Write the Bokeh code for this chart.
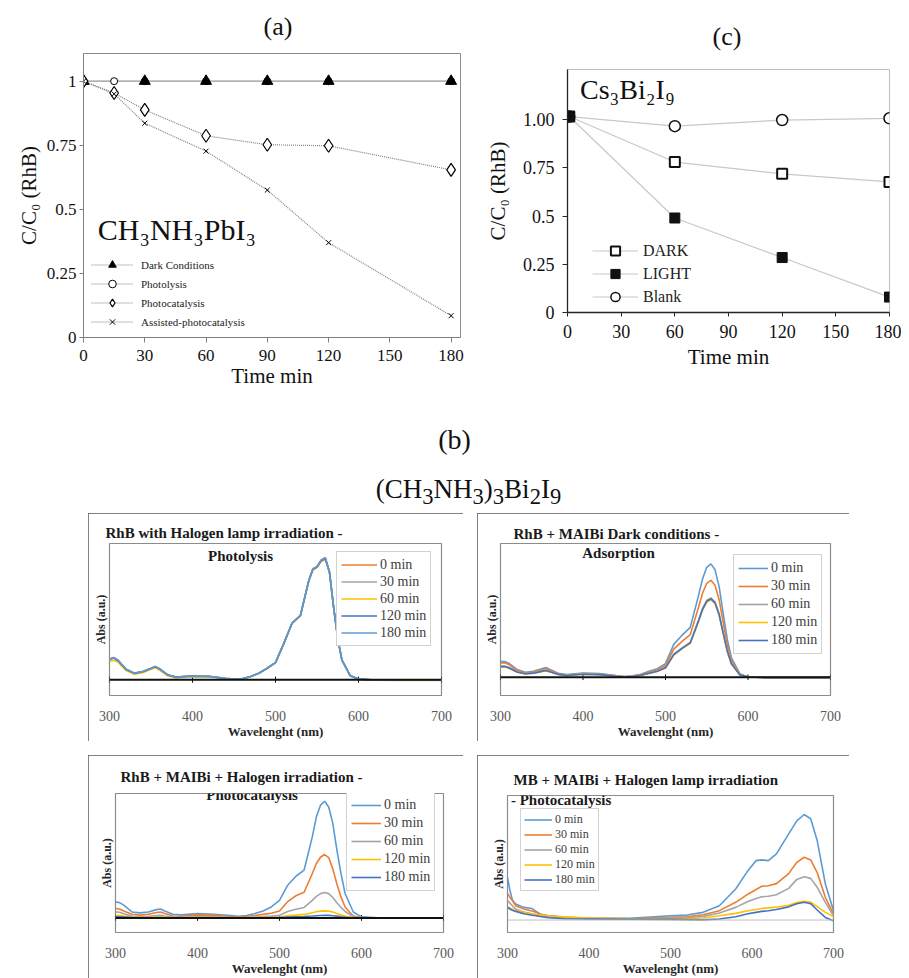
import math
from bokeh.plotting import figure
from bokeh.models import Range1d, Legend, LegendItem, Label, Span, Div, Spacer, FixedTicker
from bokeh.layouts import row, column
from bokeh.embed import file_html
from bokeh.resources import INLINE

SERIF = "Liberation Serif"

# ---------------- panel (a) : CH3NH3PbI3 ----------------
A_T_DARK = [0, 30, 60, 90, 120, 180]
A_DARK = [1, 1, 1, 1, 1, 1]
A_T_PHOTOLYSIS = [0, 15, 30, 60, 90, 120, 180]
A_PHOTOLYSIS = [1, 1, 1, 1, 1, 1, 1]
A_T_CAT = [0, 15, 30, 60, 90, 120, 180]
A_PHOTOCAT = [1, 0.954, 0.888, 0.787, 0.752, 0.748, 0.654]
A_ASSISTED = [1, 0.95, 0.836, 0.727, 0.575, 0.37, 0.085]
A_LABELS = ["Dark Conditions", "Photolysis", "Photocatalysis", "Assisted-photocatalysis"]
A_XTICKS = [0, 30, 60, 90, 120, 150, 180]
A_YTICKS = [0, 0.25, 0.5, 0.75, 1]
A_YLABELS = ["0", "0.25", "0.5", "0.75", "1"]

# ---------------- panel (c) : Cs3Bi2I9 ----------------
C_TIME = [1, 60, 120, 180]
C_DARK = [1.016, 0.78, 0.719, 0.677]
C_LIGHT = [1.016, 0.49, 0.285, 0.08]
C_BLANK = [1.016, 0.966, 0.998, 1.007]
C_LABELS = ["DARK", "LIGHT", "Blank"]
C_XTICKS = [0, 30, 60, 90, 120, 150, 180]
C_YTICKS = [0, 0.25, 0.5, 0.75, 1.0]
C_YLABELS = ["0", "0.25", "0.5", "0.75", "1.00"]

# ---------------- panel (b) spectra ----------------
SPEC_LABELS = ["0 min", "30 min", "60 min", "120 min", "180 min"]
WL_TICKS = [300, 400, 500, 600, 700]
W_RHB = [300, 305, 310, 320, 330, 340, 350, 355, 360, 370, 380, 400, 420, 440, 450, 460, 470, 480, 490, 500,
         510, 520, 530, 540, 545, 550, 555, 560, 565, 570, 575, 580, 590, 600, 620, 650, 700]

TL_0 = [0.171, 0.182, 0.163, 0.087, 0.054, 0.068, 0.095, 0.109, 0.092, 0.041, 0.022, 0.030, 0.027, 0.011, 0.005, 0.008, 0.027, 0.054, 0.095, 0.141,
        0.299, 0.467, 0.530, 0.815, 0.912, 0.932, 0.985, 1.005, 0.890, 0.600, 0.340, 0.163, 0.033, 0.005, -0.003, -0.005, -0.005]
TL_30 = [0.168, 0.180, 0.160, 0.085, 0.053, 0.066, 0.093, 0.107, 0.090, 0.040, 0.021, 0.029, 0.026, 0.010, 0.005, 0.008, 0.026, 0.053, 0.094, 0.140,
         0.297, 0.465, 0.528, 0.812, 0.908, 0.928, 0.980, 0.998, 0.886, 0.597, 0.338, 0.162, 0.033, 0.005, -0.003, -0.005, -0.005]
TL_60 = [0.150, 0.160, 0.145, 0.075, 0.045, 0.058, 0.085, 0.098, 0.080, 0.032, 0.015, 0.025, 0.023, 0.008, 0.003, 0.006, 0.024, 0.051, 0.092, 0.138,
         0.295, 0.462, 0.525, 0.808, 0.902, 0.922, 0.972, 0.988, 0.880, 0.594, 0.336, 0.160, 0.032, 0.004, -0.004, -0.006, -0.006]
TL_120 = [0.166, 0.178, 0.158, 0.084, 0.052, 0.065, 0.092, 0.106, 0.089, 0.039, 0.021, 0.029, 0.026, 0.010, 0.005, 0.008, 0.026, 0.053, 0.094, 0.140,
          0.297, 0.464, 0.527, 0.810, 0.906, 0.926, 0.978, 0.995, 0.884, 0.596, 0.337, 0.161, 0.033, 0.005, -0.003, -0.005, -0.005]
TL_180 = [0.169, 0.181, 0.161, 0.086, 0.053, 0.067, 0.094, 0.108, 0.091, 0.040, 0.022, 0.030, 0.027, 0.011, 0.005, 0.008, 0.027, 0.054, 0.095, 0.141,
          0.298, 0.466, 0.529, 0.813, 0.910, 0.930, 0.982, 1.000, 0.888, 0.598, 0.339, 0.162, 0.033, 0.005, -0.003, -0.005, -0.005]

TR_0 = [0.139, 0.139, 0.124, 0.069, 0.043, 0.052, 0.075, 0.087, 0.069, 0.035, 0.023, 0.038, 0.032, 0.014, 0.006, 0.012, 0.026, 0.052, 0.075, 0.120,
        0.290, 0.370, 0.440, 0.720, 0.870, 0.970, 1.000, 0.950, 0.800, 0.560, 0.330, 0.170, 0.032, 0.003, -0.003, -0.003, -0.003]
TR_30 = [0.127, 0.127, 0.113, 0.062, 0.038, 0.046, 0.066, 0.077, 0.061, 0.031, 0.020, 0.033, 0.028, 0.012, 0.005, 0.010, 0.022, 0.044, 0.066, 0.103,
         0.248, 0.316, 0.376, 0.615, 0.744, 0.829, 0.855, 0.812, 0.684, 0.479, 0.282, 0.145, 0.027, 0.003, -0.003, -0.003, -0.003]
TR_60 = [0.098, 0.098, 0.088, 0.050, 0.032, 0.038, 0.055, 0.063, 0.050, 0.026, 0.017, 0.028, 0.024, 0.010, 0.004, 0.008, 0.018, 0.036, 0.054, 0.084,
         0.203, 0.259, 0.308, 0.504, 0.609, 0.679, 0.700, 0.665, 0.560, 0.392, 0.231, 0.119, 0.022, 0.002, -0.003, -0.003, -0.003]
TR_120 = [0.090, 0.090, 0.080, 0.045, 0.030, 0.035, 0.050, 0.058, 0.046, 0.024, 0.016, 0.026, 0.022, 0.009, 0.004, 0.007, 0.017, 0.034, 0.052, 0.081,
          0.196, 0.251, 0.299, 0.490, 0.593, 0.662, 0.683, 0.649, 0.546, 0.382, 0.225, 0.116, 0.021, 0.002, -0.003, -0.003, -0.003]
TR_180 = [0.094, 0.094, 0.084, 0.047, 0.031, 0.036, 0.052, 0.060, 0.048, 0.025, 0.016, 0.027, 0.023, 0.009, 0.004, 0.007, 0.017, 0.035, 0.053, 0.083,
          0.200, 0.255, 0.303, 0.497, 0.601, 0.670, 0.692, 0.657, 0.553, 0.387, 0.228, 0.118, 0.021, 0.002, -0.003, -0.003, -0.003]

BL_0 = [0.137, 0.131, 0.109, 0.051, 0.043, 0.051, 0.071, 0.077, 0.060, 0.031, 0.026, 0.037, 0.031, 0.020, 0.014, 0.020, 0.037, 0.060, 0.094, 0.151,
        0.280, 0.357, 0.410, 0.694, 0.866, 0.966, 1.000, 0.950, 0.810, 0.580, 0.380, 0.209, 0.051, 0.009, 0.000, 0.000, 0.000]
BL_30 = [0.080, 0.077, 0.060, 0.031, 0.024, 0.031, 0.046, 0.051, 0.037, 0.017, 0.014, 0.026, 0.022, 0.012, 0.008, 0.012, 0.020, 0.030, 0.040, 0.060,
         0.140, 0.190, 0.220, 0.380, 0.466, 0.520, 0.543, 0.517, 0.420, 0.290, 0.180, 0.094, 0.017, 0.003, 0.000, 0.000, 0.000]
BL_60 = [0.050, 0.048, 0.036, 0.014, 0.010, 0.013, 0.020, 0.023, 0.017, 0.008, 0.006, 0.010, 0.009, 0.005, 0.003, 0.005, 0.008, 0.012, 0.017, 0.023,
         0.055, 0.075, 0.090, 0.150, 0.185, 0.208, 0.217, 0.208, 0.175, 0.130, 0.090, 0.055, 0.012, 0.002, 0.000, 0.000, 0.000]
BL_120 = [0.022, 0.020, 0.015, 0.006, 0.004, 0.005, 0.007, 0.008, 0.006, 0.003, 0.002, 0.004, 0.003, 0.002, 0.001, 0.002, 0.003, 0.004, 0.006, 0.008,
          0.018, 0.024, 0.030, 0.045, 0.053, 0.058, 0.060, 0.058, 0.050, 0.038, 0.026, 0.015, 0.004, 0.001, 0.000, 0.000, 0.000]
BL_180 = [0.010, 0.009, 0.007, 0.003, 0.002, 0.002, 0.003, 0.003, 0.002, 0.001, 0.001, 0.001, 0.001, 0.001, 0.000, 0.001, 0.001, 0.002, 0.003, 0.004,
          0.008, 0.010, 0.012, 0.016, 0.019, 0.021, 0.023, 0.022, 0.019, 0.015, 0.010, 0.006, 0.001, 0.000, 0.000, 0.000, 0.000]

W_MB = [300, 303, 306, 310, 320, 330, 335, 340, 350, 370, 400, 450, 500, 520, 540, 560, 580, 595, 605, 612,
        620, 630, 645, 655, 664, 672, 680, 690, 700]
BR_0 = [0.405, 0.280, 0.190, 0.152, 0.120, 0.110, 0.082, 0.057, 0.041, 0.025, 0.016, 0.016, 0.041, 0.047, 0.073, 0.136, 0.294, 0.468, 0.563, 0.570,
        0.563, 0.627, 0.816, 0.940, 1.000, 0.960, 0.753, 0.342, 0.089]
BR_30 = [0.253, 0.215, 0.185, 0.136, 0.104, 0.085, 0.075, 0.051, 0.040, 0.025, 0.016, 0.012, 0.025, 0.030, 0.050, 0.089, 0.168, 0.245, 0.290, 0.320,
         0.325, 0.345, 0.440, 0.547, 0.595, 0.570, 0.450, 0.215, 0.057]
BR_60 = [0.184, 0.160, 0.135, 0.104, 0.075, 0.060, 0.052, 0.040, 0.030, 0.020, 0.014, 0.010, 0.018, 0.020, 0.035, 0.066, 0.120, 0.175, 0.205, 0.220,
         0.225, 0.240, 0.300, 0.385, 0.410, 0.395, 0.310, 0.168, 0.041]
BR_120 = [0.127, 0.115, 0.102, 0.089, 0.070, 0.058, 0.052, 0.050, 0.040, 0.030, 0.018, 0.012, 0.012, 0.014, 0.020, 0.040, 0.063, 0.088, 0.100, 0.110,
          0.115, 0.122, 0.140, 0.165, 0.177, 0.170, 0.127, 0.073, 0.032]
BR_180 = [0.120, 0.105, 0.092, 0.082, 0.060, 0.045, 0.040, 0.033, 0.022, 0.012, 0.010, 0.008, 0.006, 0.004, 0.002, 0.010, 0.032, 0.060, 0.073, 0.082,
          0.088, 0.100, 0.125, 0.155, 0.168, 0.155, 0.095, 0.025, -0.006]

LBLUE, ORANGE, GRAY, GOLD, BLUE = "#5B9BD5", "#ED7D31", "#A5A5A5", "#FFC000", "#4472C4"
TL_COLORS = [ORANGE, GRAY, GOLD, BLUE, LBLUE]
STD_COLORS = [LBLUE, ORANGE, GRAY, GOLD, BLUE]


def style_axes(p, tick_size, label_size, axis_color, axis_width):
    for ax in (p.xaxis[0], p.yaxis[0]):
        ax.axis_line_color = axis_color
        ax.axis_line_width = axis_width
        ax.major_tick_line_color = axis_color
        ax.major_tick_in = 0
        ax.major_tick_out = 5
        ax.minor_tick_line_color = None
        ax.major_label_text_font = SERIF
        ax.major_label_text_font_size = tick_size
        ax.major_label_text_color = "#111111"
        ax.axis_label_text_font = SERIF
        ax.axis_label_text_font_size = label_size
        ax.axis_label_text_font_style = "normal"
        ax.axis_label_text_color = "#111111"
    p.grid.visible = False


# ---------------- panel titles (a) and (c) ----------------
titles = Div(width=893, height=44, margin=0, text=(
    "<div style=\"position:relative;width:893px;height:44px;font-family:'Liberation Serif',serif;"
    "font-size:26px;line-height:28px;color:#111;\">"
    "<div style=\"position:absolute;left:220px;top:5px;width:100px;text-align:center;\">(a)</div>"
    "<div style=\"position:absolute;left:669px;top:15px;width:100px;text-align:center;\">(c)</div></div>"))

# ---------------- figure (a) ----------------
pa = figure(width=467, height=343, x_range=Range1d(0, 184.6), y_range=Range1d(0, 1.108),
            output_backend="svg", toolbar_location=None, frame_align=False,
            min_border_left=75, min_border_right=15, min_border_top=1, min_border_bottom=58)
pa.outline_line_color = "#8c8c8c"
style_axes(pa, "17px", "21px", "#7f7f7f", 1)
pa.xaxis.ticker = FixedTicker(ticks=A_XTICKS)
pa.yaxis.ticker = FixedTicker(ticks=A_YTICKS)
pa.yaxis.major_label_overrides = dict(zip(A_YTICKS, A_YLABELS))
pa.xaxis.axis_label = "Time min"
pa.yaxis.axis_label = "C/C\u2080 (RhB)"
pa.xaxis.major_label_standoff = 7
pa.xaxis.axis_label_standoff = 0
pa.yaxis.major_tick_out = 4
pa.yaxis.major_label_standoff = 3
pa.yaxis.axis_label_standoff = 3

dot = dict(line_color="#808080", line_width=1.2, line_dash="1 1")
l1 = pa.line(A_T_DARK, A_DARK, **dot)
l2 = pa.line(A_T_PHOTOLYSIS, A_PHOTOLYSIS, **dot)
l3 = pa.line(A_T_CAT, A_PHOTOCAT, **dot)
l4 = pa.line(A_T_CAT, A_ASSISTED, **dot)
m2 = pa.scatter(A_T_PHOTOLYSIS, A_PHOTOLYSIS, marker="circle", size=7, fill_color="white", line_color="black", line_width=1)
m1 = pa.scatter(A_T_DARK, A_DARK, marker="triangle", size=11, fill_color="black", line_color="black")
m3 = pa.scatter(A_T_CAT, A_PHOTOCAT, marker="diamond", size=13, fill_color="white",
                line_color="black", line_width=1.2)
m4 = pa.scatter(A_T_CAT, A_ASSISTED, marker="x", size=7, line_color="black", line_width=1)
leg_a = Legend(items=[LegendItem(label=A_LABELS[0], renderers=[l1, m1]),
                      LegendItem(label=A_LABELS[1], renderers=[l2, m2]),
                      LegendItem(label=A_LABELS[2], renderers=[l3, m3]),
                      LegendItem(label=A_LABELS[3], renderers=[l4, m4])],
               location=(8, 6), glyph_width=42, glyph_height=19, label_height=19, spacing=0,
               padding=2, margin=0, label_standoff=8, border_line_color=None, background_fill_alpha=0,
               label_text_font=SERIF, label_text_font_size="11px", label_text_color="#222222")
pa.add_layout(leg_a)
pa.add_layout(Label(x=7, y=0.42, text="CH\u2083NH\u2083PbI\u2083", text_font=SERIF, text_font_size="30px",
                    text_baseline="middle", text_color="#111111"))

# ---------------- figure (c) ----------------
pc = figure(width=426, height=343, x_range=Range1d(0, 180), y_range=Range1d(0, 1.26),
            output_backend="svg", toolbar_location=None, frame_align=False,
            min_border_left=92, min_border_right=12, min_border_top=17, min_border_bottom=83)
pc.outline_line_color = "#bfbfbf"
style_axes(pc, "18px", "21px", "#262626", 1.3)
pc.xaxis.ticker = FixedTicker(ticks=C_XTICKS)
pc.yaxis.ticker = FixedTicker(ticks=C_YTICKS)
pc.yaxis.major_label_overrides = dict(zip(C_YTICKS, C_YLABELS))
pc.xaxis.major_tick_out = 4
pc.xaxis.axis_label = "Time min"
pc.yaxis.axis_label = "C/C\u2080 (RhB)"
pc.xaxis.major_label_standoff = 8
pc.xaxis.axis_label_standoff = 4
pc.yaxis.major_label_standoff = 8
pc.yaxis.axis_label_standoff = 10

sol = dict(line_color="#c8c8c8", line_width=1.2)
lc_b = pc.line(C_TIME, C_BLANK, **sol)
lc_d = pc.line(C_TIME, C_DARK, **sol)
lc_l = pc.line(C_TIME, C_LIGHT, **sol)
mc_b = pc.scatter(C_TIME, C_BLANK, marker="circle", size=11, fill_color="white", line_color="#111111", line_width=1.5)
mc_d = pc.scatter(C_TIME, C_DARK, marker="square", size=10, fill_color="white", line_color="#111111", line_width=2)
mc_l = pc.scatter(C_TIME, C_LIGHT, marker="square", size=10, fill_color="#111111", line_color="#111111")
leg_c = Legend(items=[LegendItem(label=C_LABELS[0], renderers=[lc_d, mc_d]),
                      LegendItem(label=C_LABELS[1], renderers=[lc_l, mc_l]),
                      LegendItem(label=C_LABELS[2], renderers=[lc_b, mc_b])],
               location=(25, 4), glyph_width=46, glyph_height=23, label_height=23, spacing=0,
               padding=2, margin=0, label_standoff=5, border_line_color=None, background_fill_alpha=0,
               label_text_font=SERIF, label_text_font_size="16px", label_text_color="#222222")
pc.add_layout(leg_c)
pc.add_layout(Label(x=7, y=1.155, text="Cs\u2083Bi\u2082I\u2089", text_font=SERIF, text_font_size="28px",
                    text_baseline="middle", text_color="#111111"))


# ---------------- spectra panels ----------------
def spectra(width, height, borders, ylim, wl, series, colors, title, t_offset, t_standoff,
            sub, sub_x, sub_y, sub_align, leg_loc, leg_lh, leg_gw, leg_font, leg_pad, base_color, base_w, base_ticks):
    p = figure(width=width, height=height, x_range=Range1d(300, 700), y_range=Range1d(*ylim),
               output_backend="svg", toolbar_location=None, frame_align=False,
               min_border_left=borders[0], min_border_right=borders[1],
               min_border_top=borders[2], min_border_bottom=borders[3])
    p.styles = {"outline": "1.5px solid #595959", "outline-offset": "-1.5px"}
    p.grid.visible = False
    p.outline_line_color = "#8c8c8c"
    p.outline_line_width = 1.2
    p.title.text = title
    p.title.align = "left"
    p.title.text_font = SERIF
    p.title.text_font_style = "bold"
    p.title.text_font_size = "15px"
    p.title.text_color = "#1a1a1a"
    p.title.offset = t_offset
    p.title.standoff = t_standoff
    xa = p.xaxis[0]
    xa.ticker = FixedTicker(ticks=WL_TICKS)
    xa.axis_line_color = None
    xa.major_tick_line_color = None
    xa.minor_tick_line_color = None
    xa.major_label_text_font = SERIF
    xa.major_label_text_font_size = "14px"
    xa.major_label_text_color = "#595959"
    xa.major_label_standoff = 9
    xa.axis_label = "Wavelenght (nm)"
    xa.axis_label_text_font = SERIF
    xa.axis_label_text_font_style = "bold"
    xa.axis_label_text_font_size = "13px"
    xa.axis_label_text_color = "#262626"
    xa.axis_label_standoff = 0
    ya = p.yaxis[0]
    ya.ticker = FixedTicker(ticks=[])
    ya.axis_line_color = None
    ya.major_tick_line_color = None
    ya.minor_tick_line_color = None
    ya.major_label_text_font_size = "0px"
    ya.axis_label = "Abs (a.u.)"
    ya.axis_label_text_font = SERIF
    ya.axis_label_text_font_style = "bold"
    ya.axis_label_text_font_size = "12px"
    ya.axis_label_text_color = "#262626"
    ya.axis_label_standoff = 2
    p.add_layout(Span(location=0, dimension="width", line_color=base_color, line_width=base_w))
    if base_ticks:
        p.segment(x0=WL_TICKS, y0=[-0.025] * len(WL_TICKS), x1=WL_TICKS, y1=[0.025] * len(WL_TICKS),
                  line_color=base_color, line_width=1)
    items = []
    for lab, ys, c in zip(SPEC_LABELS, series, colors):
        r = p.line(wl, ys, line_color=c, line_width=1.6)
        items.append(LegendItem(label=lab, renderers=[r]))
    leg = Legend(items=items, location=leg_loc, glyph_width=leg_gw, glyph_height=leg_lh, label_height=leg_lh,
                 spacing=0, padding=leg_pad, margin=0, label_standoff=3, border_line_color="#a6a6a6",
                 border_line_width=1, background_fill_color="white", background_fill_alpha=1,
                 label_text_font=SERIF, label_text_font_size=leg_font, label_text_color="#404040")
    p.add_layout(leg)
    p.add_layout(Label(x=sub_x, y=sub_y, text=sub, text_font=SERIF, text_font_style="bold", text_font_size="15px",
                       text_align=sub_align, text_baseline="middle", text_color="#1a1a1a"))
    return p


tl = spectra(375, 228, (21, 22, 30, 45), (-0.13, 1.12), W_RHB, [TL_0, TL_30, TL_60, TL_120, TL_180], TL_COLORS,
             "RhB with Halogen lamp irradiation -", -4, 5, "Photolysis", 457.8, 1.02, "center",
             (227, 49), 17, 36, "14px", 4, "#111111", 2, True)
tr = spectra(372, 228, (23, 19, 30, 44), (-0.161, 1.18), W_RHB, [TR_0, TR_30, TR_60, TR_120, TR_180], STD_COLORS,
             "RhB + MAIBi Dark conditions -", 13, 4, "Adsorption", 443, 1.093, "center",
             (233, 41), 18, 30, "14px", 4, "#111111", 2, True)
bl = spectra(375, 223, (27, 20, 38, 46), (-0.125, 1.066), W_RHB, [BL_0, BL_30, BL_60, BL_120, BL_180], STD_COLORS,
             "RhB + MAIBi + Halogen irradiation -", 5, 17, "Photocatalysis", 466.6, 1.051, "center",
             (231, 41), 18, 30, "14px", 4, "#111111", 2, True)
br = spectra(372, 223, (30, 16, 40, 46), (-0.118, 1.18), W_MB, [BR_0, BR_30, BR_60, BR_120, BR_180], STD_COLORS,
             "MB + MAIBi + Halogen lamp irradiation", 6, 16, "- Photocatalysis", 304.2, 1.139, "left",
             (13, 41), 13, 28, "12px", 3, "#bfbfbf", 1, False)

mid = Div(width=893, height=118, margin=0, text=(
    "<div style=\"position:relative;width:893px;height:118px;font-family:'Liberation Serif',serif;color:#111;\">"
    "<div style=\"position:absolute;left:0;top:30px;width:893px;text-align:center;font-size:28px;line-height:30px;\">(b)</div>"
    "<div style=\"position:absolute;left:14px;top:79px;width:893px;text-align:center;font-size:27px;line-height:30px;\">"
    "(CH<sub>3</sub>NH<sub>3</sub>)<sub>3</sub>Bi<sub>2</sub>I<sub>9</sub></div></div>"))

r1 = row(pa, pc)
r2 = row(Spacer(width=80, height=228), tl, Spacer(width=14, height=228), tr)
gap = Spacer(width=893, height=14)
r3 = row(Spacer(width=80, height=223), bl, Spacer(width=14, height=223), br)
body = column(Spacer(width=893, height=8), titles, r1, mid, r2, gap, r3)
layout = row(Spacer(width=8, height=970), body)

open("out.html", "w").write(file_html(layout, INLINE))
